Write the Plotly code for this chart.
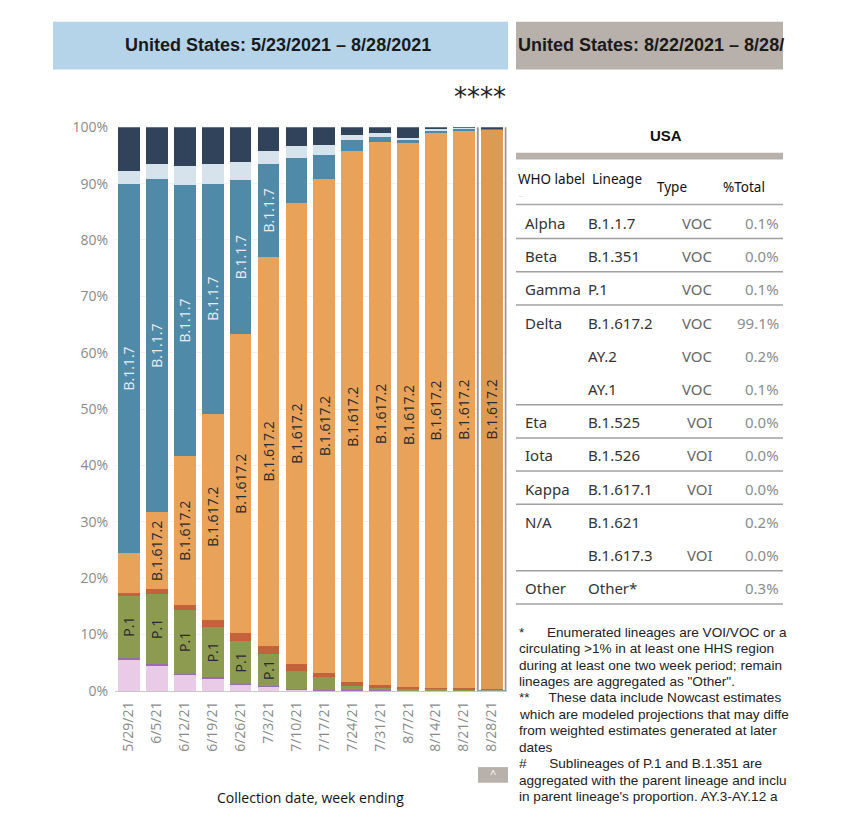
import plotly.graph_objects as go

W, H = 850, 823

weeks = ["5/29/21", "6/5/21", "6/12/21", "6/19/21", "6/26/21", "7/3/21", "7/10/21",
         "7/17/21", "7/24/21", "7/31/21", "8/7/21", "8/14/21", "8/21/21", "8/28/21"]

# segment shares (%), stacked bottom -> top
other_pct   = [5.5, 4.5, 2.8, 2.2, 1.1, 0.7, 0.2, 0.1, 0.05, 0.05, 0.05, 0.05, 0.05, 0.05]
b1351_pct   = [0.4, 0.3, 0.2, 0.2, 0.2, 0.2, 0.1, 0.1, 0.05, 0.05, 0.05, 0.05, 0.05, 0.05]
p1_pct      = [11.0, 12.4, 11.4, 8.9, 7.5, 5.6, 3.3, 2.2, 0.8, 0.5, 0.35, 0.2, 0.1, 0.1]
ay_pct      = [0.4, 0.8, 0.8, 1.3, 1.4, 1.5, 1.2, 0.8, 0.7, 0.4, 0.3, 0.3, 0.3, 0.2]
delta_pct   = [7.1, 13.7, 26.4, 36.6, 53.1, 69.0, 81.7, 87.6, 94.1, 96.3, 96.4, 98.3, 98.8, 99.1]
alpha_pct   = [65.6, 59.1, 48.2, 40.8, 27.3, 16.5, 8.0, 4.3, 2.0, 1.0, 0.7, 0.5, 0.4, 0.15]
b1429_pct   = [2.2, 2.7, 3.4, 3.5, 3.3, 2.3, 2.1, 1.8, 1.0, 0.7, 0.3, 0.2, 0.2, 0.1]
b1526_pct   = [7.8, 6.5, 6.8, 6.5, 6.1, 4.2, 3.4, 3.1, 1.3, 1.0, 1.9, 0.5, 0.2, 0.3]

alpha_text = ["B.1.1.7"] * 6 + [""] * 8
p1_text    = ["P.1"] * 6 + [""] * 8
delta_text = [""] + ["B.1.617.2"] * 13

# table
who_labels = ["Alpha", "Beta", "Gamma", "Delta", "", "", "Eta", "Iota", "Kappa", "N/A", "", "Other"]
lineages   = ["B.1.1.7", "B.1.351", "P.1", "B.1.617.2", "AY.2", "AY.1", "B.1.525", "B.1.526",
              "B.1.617.1", "B.1.621", "B.1.617.3", "Other*"]
types      = ["VOC", "VOC", "VOC", "VOC", "VOC", "VOC", "VOI", "VOI", "VOI", "", "VOI", ""]
pct_total  = ["0.1%", "0.0%", "0.1%", "99.1%", "0.2%", "0.1%", "0.0%", "0.0%", "0.0%", "0.2%", "0.0%", "0.3%"]

footnotes = [
    "*      Enumerated lineages are VOI/VOC or a",
    "circulating >1% in at least one HHS region",
    "during at least one two week period; remain",
    "lineages are aggregated as \"Other\".",
    "**     These data include Nowcast estimates",
    "which are modeled projections that may diffe",
    "from weighted estimates generated at later",
    "dates",
    "#      Sublineages of P.1 and B.1.351 are",
    "aggregated with the parent lineage and inclu",
    "in parent lineage's proportion. AY.3-AY.12 a",
]

def px(x):
    return x / W

def py(y):
    return 1 - y / H

fig = go.Figure()

series = [
    ("Other", other_pct, "#e9cbe8", None, None),
    ("B.1.351", b1351_pct, "#9a6bb0", None, None),
    ("P.1", p1_pct, "#8c9b50", p1_text, "#2a2a2a"),
    ("AY.2", ay_pct, "#c4623c", None, None),
    ("B.1.617.2", delta_pct, ["#e8a25a"] * 13 + ["#dd9a52"], delta_text, "#2a2a2a"),
    ("B.1.1.7", alpha_pct, "#4f8aa8", alpha_text, "#e6eef3"),
    ("B.1.429", b1429_pct, "#d6e2ec", None, None),
    ("B.1.526", b1526_pct, "#31435a", None, None),
]

for name, vals, color, txt, tcol in series:
    if txt is not None:
        kw = dict(text=txt, texttemplate="%{text}", textposition="inside",
                  insidetextanchor="middle", textangle=-90,
                  insidetextfont=dict(family="Open Sans", size=14, color=tcol))
    else:
        kw = dict(textposition="none")
    fig.add_trace(go.Bar(x=weeks, y=vals, name=name, marker=dict(color=color, line=dict(width=0)),
                         showlegend=False, **kw))

fig.update_layout(
    width=W, height=H, barmode="stack", bargap=0.22,
    uniformtext=dict(minsize=14, mode="show"),
    margin=dict(l=0, r=0, t=0, b=0),
    paper_bgcolor="white", plot_bgcolor="white",
    xaxis=dict(domain=[px(115), px(506.7)], type="category", tickangle=-90,
               tickfont=dict(family="Open Sans", size=14, color="#8a8a8a"),
               showgrid=False, showline=True, linecolor="#c8c8c8", linewidth=1,
               ticks="", ticklabelstandoff=4),
    yaxis=dict(domain=[py(697), py(120)], range=[0, 100], tickvals=[0, 10, 20, 30, 40, 50, 60, 70, 80, 90, 100],
               ticktext=["0%", "10%", "20%", "30%", "40%", "50%", "60%", "70%", "80%", "90%", "100%"],
               tickfont=dict(family="Open Sans", size=14, color="#8a8a8a"),
               showgrid=True, gridcolor="#f2f2f2", zeroline=False, ticks="", ticklabelstandoff=6),
    font=dict(family="Open Sans"),
)

shapes = []
annotations = []

def note(text, x, y, xa="left", size=14, color="#222", family="Open Sans"):
    annotations.append(dict(text=text, xref="paper", yref="paper", x=px(x), y=py(y),
                            xanchor=xa, yanchor="middle", showarrow=False,
                            font=dict(family=family, size=size, color=color)))

# header boxes
shapes.append(dict(type="rect", xref="paper", yref="paper", x0=px(53), x1=px(508), y0=py(61), y1=py(12),
                   fillcolor="#b5d4ea", line=dict(width=0), layer="below"))
shapes.append(dict(type="rect", xref="paper", yref="paper", x0=px(516), x1=px(783), y0=py(61), y1=py(12),
                   fillcolor="#b8b0ab", line=dict(width=0), layer="below"))
note("<b>United States: 5/23/2021 – 8/28/2021</b>", 278, 36, "center", 18, "#1a1a1a", "Liberation Sans")
note("<b>United States: 8/22/2021 – 8/28/</b>", 516, 36, "left", 18, "#1a1a1a", "Liberation Sans")
note("****", 480, 89, "center", 26, "#222", "DejaVu Sans")

# highlighted last bar
last = len(weeks) - 1
shapes.append(dict(type="rect", xref="x", yref="y", x0=last - 0.5, x1=last + 0.5, y0=0, y1=100.7,
                   line=dict(color="#9a9a9a", width=2), fillcolor="rgba(0,0,0,0)", layer="above"))

# x axis title
note("Collection date, week ending", 310, 806, "center", 14, "#111")

# small ^ button
shapes.append(dict(type="rect", xref="paper", yref="paper", x0=px(478), x1=px(508), y0=py(791), y1=py(775),
                   fillcolor="#b8b0ab", line=dict(width=0)))
note("^", 493, 782, "center", 11, "white")

# table
tf = "Noto Sans"
note("<b>USA</b>", 666, 128, "center", 15, "#111", "Liberation Sans")
shapes.append(dict(type="rect", xref="paper", yref="paper", x0=px(516), x1=px(783), y0=py(153), y1=py(146),
                   fillcolor="#b8b0ab", line=dict(width=0)))
note("WHO label", 516, 173, "left", 13.5, "#111", tf)
note("Lineage", 590, 173, "left", 13.5, "#111", tf)
note("Type", 655, 181, "left", 13.5, "#111", tf)
note("%Total", 721, 181, "left", 13.5, "#111", tf)
note("..", 517, 189, "left", 7, "#bbb", tf)
shapes.append(dict(type="line", xref="paper", yref="paper", x0=px(516), x1=px(783), y0=py(199), y1=py(199),
                   line=dict(color="#a8a8a8", width=1.5)))

row_y0, row_dy = 218, 34.0
group_ends = [0, 1, 2, 5, 6, 7, 8, 10, 11]
for i in range(len(lineages)):
    yy = row_y0 + i * row_dy
    if who_labels[i]:
        note(who_labels[i], 523, yy, "left", 15, "#333", tf)
    note(lineages[i], 586, yy, "left", 15, "#333", tf)
    if types[i]:
        note(types[i], 715, yy, "right", 15, "#666", tf)
    note(pct_total[i], 781, yy, "right", 15, "#8c8c8c", tf)
    if i in group_ends:
        ly = yy + 16
        shapes.append(dict(type="line", xref="paper", yref="paper", x0=px(516), x1=px(783), y0=py(ly), y1=py(ly),
                           line=dict(color="#a0a0a0", width=1.5)))

# footnotes
for j, line in enumerate(footnotes):
    yy = 637 + j * 16.8
    txt = line.replace(" ", "&nbsp;") if line[0] in "*#" else line
    note(txt, 517, yy, "left", 13.6, "#222", "Liberation Sans")

fig.update_layout(shapes=shapes, annotations=annotations)
fig.write_html("out.html", config={"displayModeBar": False},
               post_script="document.body.style.margin='0';")
